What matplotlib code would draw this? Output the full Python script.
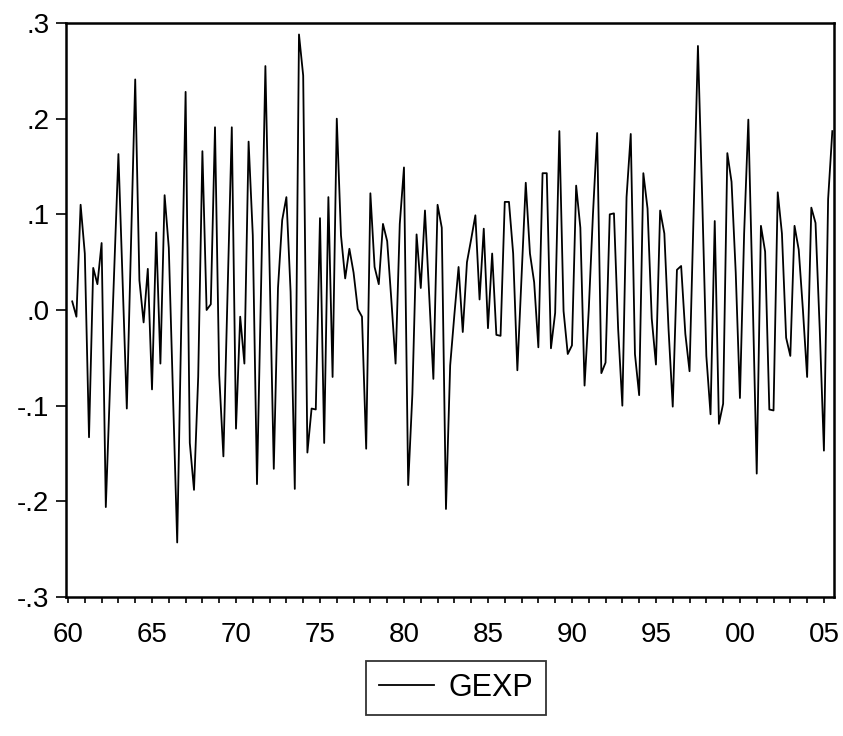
import matplotlib
matplotlib.use("Agg")
import matplotlib.pyplot as plt

# quarterly series, 1960Q2 .. 2005Q3
inicio = 1960.25
gexp = [0.009, -0.007, 0.110, 0.059, -0.133, 0.044, 0.027, 0.070, -0.206, -0.08,
        0.04, 0.163, 0.03, -0.103, 0.07, 0.241, 0.031, -0.013, 0.043, -0.083,
        0.081, -0.056, 0.120, 0.065, -0.09, -0.243, -0.01, 0.228, -0.139, -0.188,
        -0.07, 0.166, 0.0, 0.006, 0.191, -0.068, -0.153, 0.02, 0.191, -0.124,
        -0.007, -0.056, 0.176, 0.078, -0.182, 0.03, 0.255, 0.045, -0.166, 0.023,
        0.094, 0.118, 0.019, -0.187, 0.288, 0.245, -0.149, -0.103, -0.104, 0.096,
        -0.139, 0.118, -0.070, 0.200, 0.078, 0.033, 0.064, 0.039, 0.001, -0.007,
        -0.145, 0.122, 0.045, 0.027, 0.090, 0.072, 0.01, -0.056, 0.09, 0.149,
        -0.183, -0.088, 0.079, 0.023, 0.104, 0.015, -0.072, 0.110, 0.086, -0.208,
        -0.058, -0.005, 0.045, -0.023, 0.050, 0.074, 0.099, 0.011, 0.085, -0.019,
        0.059, -0.026, -0.027, 0.113, 0.113, 0.059, -0.063, 0.035, 0.133, 0.059,
        0.029, -0.039, 0.143, 0.143, -0.040, -0.003, 0.187, -0.001, -0.046, -0.037,
        0.130, 0.086, -0.079, 0.0, 0.10, 0.185, -0.066, -0.055, 0.100, 0.101,
        -0.02, -0.1, 0.118, 0.184, -0.046, -0.089, 0.143, 0.106, -0.009, -0.057,
        0.104, 0.080, -0.02, -0.101, 0.042, 0.046, -0.025, -0.064, 0.105, 0.276,
        0.12, -0.048, -0.109, 0.093, -0.119, -0.098, 0.164, 0.134, 0.039, -0.092,
        0.08, 0.199, 0.02, -0.171, 0.088, 0.061, -0.104, -0.105, 0.123, 0.080,
        -0.029, -0.048, 0.088, 0.063, 0.0, -0.070, 0.107, 0.091, -0.02, -0.147,
        0.116, 0.187]

anos = [inicio + i / 4 for i in range(len(gexp))]

yticks = [-0.3, -0.2, -0.1, 0.0, 0.1, 0.2, 0.3]
ylabels = ['-.3', '-.2', '-.1', '.0', '.1', '.2', '.3']
xticks = [1960, 1965, 1970, 1975, 1980, 1985, 1990, 1995, 2000, 2005]
xlabels = ['60', '65', '70', '75', '80', '85', '90', '95', '00', '05']

plt.rcParams['font.family'] = ['Liberation Sans', 'DejaVu Sans']

fig = plt.figure(figsize=(8.43, 7.36), dpi=100)
ax = fig.add_axes([66 / 843, 1 - 597 / 736, 768 / 843, 574 / 736])

linha, = ax.plot(anos, gexp, color='black', linewidth=1.3, label='GEXP')

ax.set_xlim(1959.88, 2005.6)
ax.set_ylim(-0.3, 0.3)

ax.set_yticks(yticks)
ax.set_yticklabels(ylabels)
ax.set_xticks(xticks)
ax.set_xticklabels(xlabels)
ax.set_xticks(range(1960, 2006), minor=True)

ax.tick_params(axis='y', direction='out', length=7, width=1.2, labelsize=20, pad=5)
ax.tick_params(axis='x', which='both', direction='out', length=4, width=1.2,
               labelsize=20, pad=14)
ax.tick_params(axis='x', which='minor', length=4)

for lado in ax.spines.values():
    lado.set_linewidth(1.8)

leg = fig.legend(handles=[linha], loc='center', bbox_to_anchor=(456 / 843, 1 - 688 / 736),
                 fontsize=22, frameon=True, fancybox=False, edgecolor='black',
                 handlelength=1.8, borderpad=0.4, handletextpad=0.5, borderaxespad=0)
leg.get_frame().set_linewidth(1.3)
leg.get_lines()[0].set_linewidth(1.3)

fig.savefig('out.png', dpi=100)
